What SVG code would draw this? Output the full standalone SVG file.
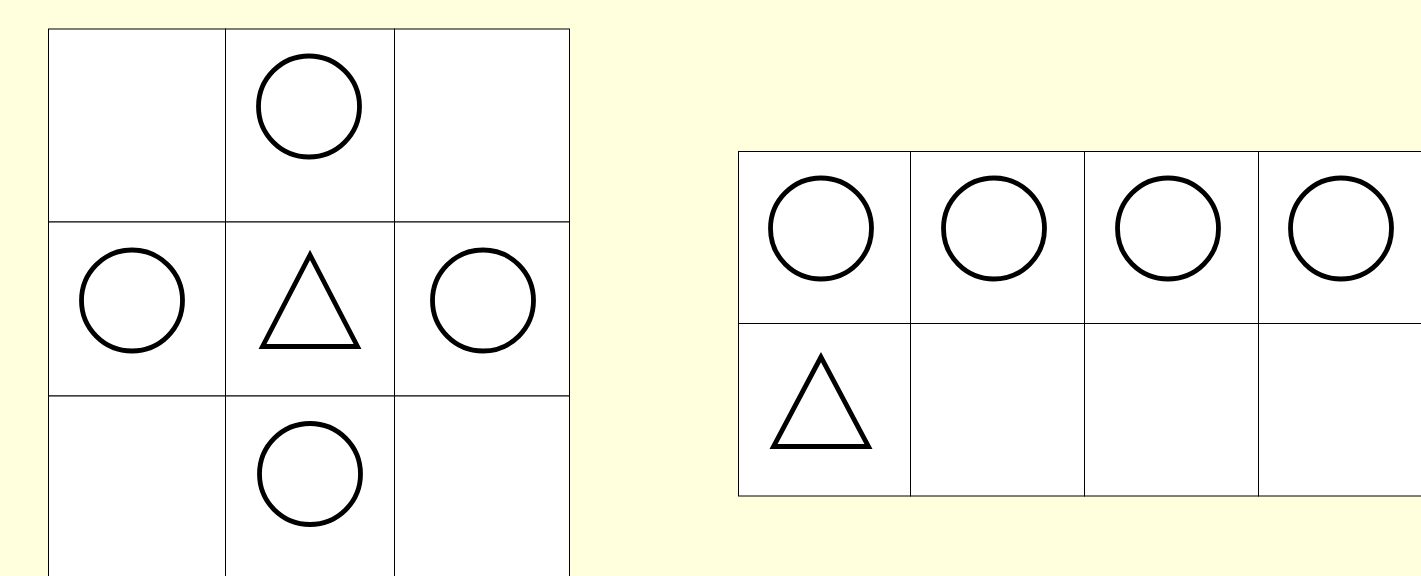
<svg xmlns="http://www.w3.org/2000/svg" width="1421" height="576" viewBox="0 0 1421 576">
<style>
.cell{fill:#fff;stroke:#000;stroke-width:1}
.sym{fill:none;stroke:#000;stroke-width:4.8}
</style>
<rect width="1421" height="576" fill="#ffffdd"/>
<g id="grid-left">
<rect class="cell" x="48.5" y="29" width="177" height="193"/>
<rect class="cell" x="225.5" y="29" width="169" height="193"/>
<rect class="cell" x="394.5" y="29" width="175" height="193"/>
<rect class="cell" x="48.5" y="222" width="177" height="174"/>
<rect class="cell" x="225.5" y="222" width="169" height="174"/>
<rect class="cell" x="394.5" y="222" width="175" height="174"/>
<rect class="cell" x="48.5" y="396" width="177" height="193"/>
<rect class="cell" x="225.5" y="396" width="169" height="193"/>
<rect class="cell" x="394.5" y="396" width="175" height="193"/>
</g>
<g id="left-symbols">
<circle id="l-top" class="sym" cx="309" cy="106.5" r="50.5"/>
<circle id="l-left" class="sym" cx="132" cy="300.5" r="50.5"/>
<circle id="l-right" class="sym" cx="483" cy="300.5" r="50.5"/>
<circle id="l-bottom" class="sym" cx="310" cy="474" r="50.5"/>
<polygon id="l-tri" class="sym" points="310,255 262.5,346.5 357.5,346.5"/>
</g>
<g id="grid-right">
<rect class="cell" x="738.5" y="151.5" width="172" height="172"/>
<rect class="cell" x="910.5" y="151.5" width="174" height="172"/>
<rect class="cell" x="1084.5" y="151.5" width="174" height="172"/>
<rect class="cell" x="1258.5" y="151.5" width="174" height="172"/>
<rect class="cell" x="738.5" y="323.5" width="172" height="172.5"/>
<rect class="cell" x="910.5" y="323.5" width="174" height="172.5"/>
<rect class="cell" x="1084.5" y="323.5" width="174" height="172.5"/>
<rect class="cell" x="1258.5" y="323.5" width="174" height="172.5"/>
</g>
<g id="right-symbols">
<circle id="r-c1" class="sym" cx="821" cy="228.5" r="50.5"/>
<circle id="r-c2" class="sym" cx="994" cy="228.5" r="50.5"/>
<circle id="r-c3" class="sym" cx="1168" cy="228.5" r="50.5"/>
<circle id="r-c4" class="sym" cx="1341" cy="228.5" r="50.5"/>
<polygon id="r-tri" class="sym" points="821,357 773.5,446.5 868.5,446.5"/>
</g>
</svg>
